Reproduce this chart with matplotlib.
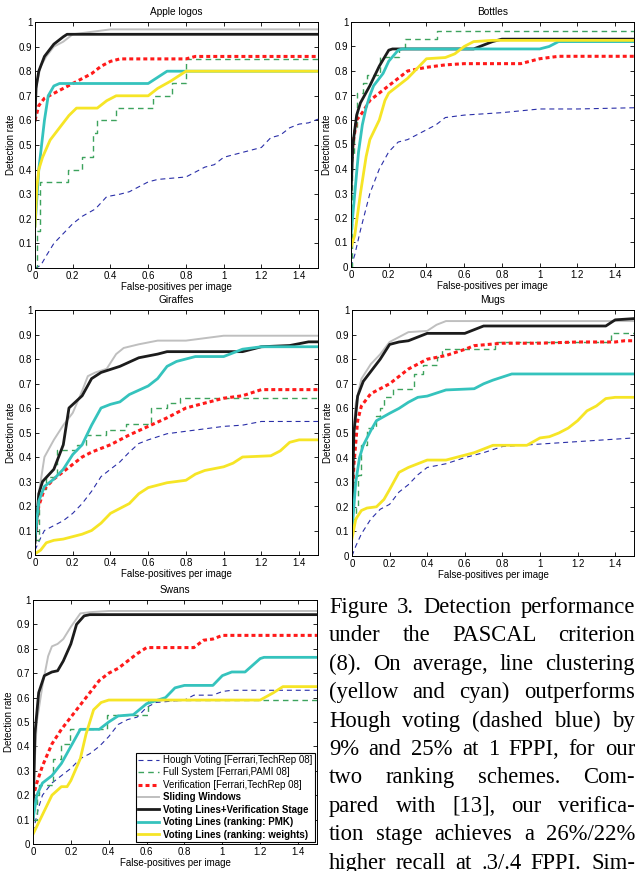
import matplotlib.pyplot as plt
import numpy as np

# figure size in pixels
W, H = 637, 871

# ---- data: (false positives per image, detection rate) ----
# Apple logos
apple_hough = [(0, 0), (0.03, 0.01), (0.06, 0.05), (0.1, 0.1), (0.15, 0.14), (0.2, 0.18), (0.25, 0.21),
               (0.32, 0.24), (0.38, 0.29), (0.45, 0.3), (0.5, 0.31), (0.55, 0.33), (0.6, 0.35), (0.65, 0.36),
               (0.8, 0.37), (0.9, 0.41), (0.95, 0.42), (1.0, 0.45), (1.1, 0.47), (1.2, 0.49), (1.25, 0.53),
               (1.3, 0.54), (1.35, 0.57), (1.4, 0.585), (1.45, 0.59), (1.5, 0.605)]
apple_full = [(0, 0), (0.01, 0.15), (0.027, 0.35), (0.177, 0.40), (0.248, 0.45), (0.31, 0.55), (0.327, 0.60),
              (0.43, 0.65), (0.625, 0.70), (0.726, 0.75), (0.80, 0.85), (1.5, 0.85)]
apple_verif = [(0, 0.6), (0.02, 0.66), (0.05, 0.69), (0.1, 0.71), (0.15, 0.73), (0.2, 0.75), (0.25, 0.77),
               (0.3, 0.79), (0.35, 0.82), (0.4, 0.84), (0.45, 0.85), (0.8, 0.85), (0.85, 0.86), (1.5, 0.86)]
apple_sliding = [(0, 0.6), (0.01, 0.75), (0.03, 0.82), (0.06, 0.86), (0.1, 0.9), (0.15, 0.92), (0.2, 0.95),
                 (0.3, 0.96), (0.4, 0.97), (1.5, 0.97)]
apple_vlver = [(0, 0.6), (0.005, 0.73), (0.02, 0.8), (0.05, 0.86), (0.1, 0.91), (0.15, 0.94), (0.17, 0.95),
               (1.5, 0.95)]
apple_pmk = [(0, 0.17), (0.02, 0.4), (0.05, 0.6), (0.07, 0.7), (0.1, 0.74), (0.13, 0.75), (0.6, 0.75),
             (0.7, 0.8), (1.5, 0.8)]
apple_weights = [(0, 0.17), (0.01, 0.33), (0.02, 0.4), (0.04, 0.45), (0.08, 0.52), (0.13, 0.57), (0.18, 0.62),
                 (0.22, 0.65), (0.33, 0.65), (0.38, 0.68), (0.43, 0.7), (0.6, 0.7), (0.65, 0.73), (0.72, 0.76),
                 (0.8, 0.8), (1.5, 0.8)]

# Bottles
bottles_hough = [(0, 0), (0.02, 0.05), (0.05, 0.15), (0.1, 0.3), (0.15, 0.4), (0.2, 0.47), (0.25, 0.51),
                 (0.3, 0.52), (0.35, 0.54), (0.4, 0.56), (0.45, 0.58), (0.5, 0.61), (0.6, 0.62), (0.8, 0.63),
                 (1.0, 0.645), (1.2, 0.645), (1.5, 0.65)]
bottles_full = [(0, 0), (0.003, 0.45), (0.015, 0.57), (0.03, 0.71), (0.065, 0.75), (0.085, 0.785),
                (0.155, 0.857), (0.255, 0.89), (0.285, 0.93), (0.455, 0.965), (1.5, 0.965)]
bottles_verif = [(0, 0.4), (0.01, 0.5), (0.03, 0.6), (0.06, 0.63), (0.1, 0.68), (0.15, 0.71), (0.2, 0.74),
                 (0.25, 0.77), (0.3, 0.8), (0.4, 0.815), (0.5, 0.825), (0.6, 0.83), (0.9, 0.83), (1.0, 0.85),
                 (1.1, 0.86), (1.5, 0.86)]
bottles_vlver = [(0, 0.3), (0.01, 0.5), (0.03, 0.62), (0.05, 0.67), (0.1, 0.74), (0.15, 0.82), (0.2, 0.885),
                 (0.22, 0.89), (0.65, 0.89), (0.75, 0.92), (0.8, 0.93), (1.5, 0.93)]
bottles_pmk = [(0, 0.13), (0.02, 0.3), (0.04, 0.47), (0.06, 0.58), (0.08, 0.65), (0.1, 0.7), (0.12, 0.74),
               (0.17, 0.79), (0.2, 0.84), (0.25, 0.885), (0.27, 0.89), (1.0, 0.89), (1.05, 0.9), (1.1, 0.92),
               (1.5, 0.92)]
bottles_weights = [(0, 0.08), (0.02, 0.13), (0.05, 0.3), (0.08, 0.45), (0.1, 0.52), (0.15, 0.6), (0.18, 0.68),
                   (0.2, 0.71), (0.25, 0.74), (0.3, 0.77), (0.35, 0.81), (0.4, 0.85), (0.5, 0.855), (0.55, 0.87),
                   (0.6, 0.9), (0.65, 0.92), (0.75, 0.925), (1.5, 0.925)]

# Giraffes
giraffes_hough = [(0, 0.02), (0.03, 0.07), (0.05, 0.1), (0.1, 0.12), (0.15, 0.14), (0.2, 0.17), (0.25, 0.21),
                  (0.3, 0.26), (0.35, 0.32), (0.4, 0.35), (0.45, 0.38), (0.5, 0.42), (0.55, 0.455), (0.6, 0.47),
                  (0.7, 0.495), (0.8, 0.505), (0.9, 0.515), (1.0, 0.525), (1.1, 0.53), (1.2, 0.545), (1.5, 0.545)]
giraffes_full = [(0, 0.06), (0.02, 0.27), (0.058, 0.32), (0.115, 0.43), (0.22, 0.45), (0.27, 0.49),
                 (0.377, 0.51), (0.48, 0.535), (0.616, 0.6), (0.70, 0.62), (0.766, 0.64), (1.5, 0.64)]
giraffes_verif = [(0, 0.07), (0.02, 0.2), (0.05, 0.27), (0.1, 0.31), (0.15, 0.34), (0.2, 0.37), (0.25, 0.4),
                  (0.3, 0.42), (0.4, 0.45), (0.5, 0.49), (0.6, 0.525), (0.7, 0.56), (0.8, 0.6), (0.9, 0.62),
                  (1.0, 0.64), (1.1, 0.65), (1.2, 0.675), (1.5, 0.675)]
giraffes_sliding = [(0, 0.05), (0.02, 0.25), (0.05, 0.4), (0.1, 0.47), (0.15, 0.53), (0.2, 0.58), (0.25, 0.67),
                    (0.28, 0.73), (0.32, 0.745), (0.38, 0.76), (0.43, 0.82), (0.47, 0.845), (0.55, 0.86),
                    (0.65, 0.875), (0.8, 0.875), (0.9, 0.885), (1.0, 0.895), (1.5, 0.895)]
giraffes_vlver = [(0, 0.05), (0.02, 0.25), (0.04, 0.3), (0.1, 0.35), (0.15, 0.45), (0.18, 0.6), (0.25, 0.65),
                  (0.3, 0.72), (0.35, 0.745), (0.45, 0.77), (0.55, 0.805), (0.65, 0.82), (0.7, 0.83), (1.1, 0.83),
                  (1.2, 0.85), (1.35, 0.855), (1.45, 0.87), (1.5, 0.87)]
giraffes_pmk = [(0, 0.07), (0.02, 0.22), (0.05, 0.28), (0.1, 0.31), (0.15, 0.35), (0.2, 0.41), (0.25, 0.45),
                (0.3, 0.53), (0.35, 0.6), (0.4, 0.615), (0.45, 0.625), (0.5, 0.655), (0.6, 0.69), (0.65, 0.72),
                (0.7, 0.77), (0.75, 0.79), (0.85, 0.81), (1.0, 0.81), (1.05, 0.825), (1.1, 0.84), (1.2, 0.85),
                (1.5, 0.85)]
giraffes_weights = [(0, 0.005), (0.03, 0.02), (0.06, 0.05), (0.1, 0.06), (0.15, 0.065), (0.2, 0.075),
                    (0.25, 0.085), (0.3, 0.1), (0.35, 0.13), (0.4, 0.17), (0.45, 0.19), (0.5, 0.21), (0.55, 0.25),
                    (0.6, 0.275), (0.65, 0.285), (0.7, 0.295), (0.8, 0.305), (0.85, 0.33), (0.9, 0.345),
                    (1.0, 0.36), (1.05, 0.375), (1.1, 0.4), (1.25, 0.405), (1.3, 0.425), (1.35, 0.46), (1.4, 0.47),
                    (1.5, 0.47)]

# Mugs
mugs_hough = [(0, 0), (0.02, 0.04), (0.05, 0.09), (0.1, 0.15), (0.15, 0.19), (0.2, 0.21), (0.25, 0.26),
              (0.3, 0.29), (0.35, 0.33), (0.4, 0.36), (0.5, 0.375), (0.6, 0.4), (0.7, 0.42), (0.8, 0.445),
              (0.9, 0.45), (1.0, 0.455), (1.2, 0.465), (1.4, 0.475), (1.5, 0.48)]
mugs_full = [(0, 0.15), (0.02, 0.2), (0.03, 0.33), (0.05, 0.45), (0.08, 0.52), (0.13, 0.57), (0.15, 0.6),
             (0.17, 0.645), (0.22, 0.68), (0.33, 0.74), (0.38, 0.775), (0.45, 0.81), (0.48, 0.84), (0.76, 0.87),
             (1.38, 0.905), (1.5, 0.905)]
mugs_verif = [(0, 0.2), (0.01, 0.37), (0.03, 0.55), (0.05, 0.61), (0.1, 0.66), (0.15, 0.68), (0.2, 0.7),
              (0.25, 0.73), (0.3, 0.76), (0.35, 0.78), (0.4, 0.8), (0.5, 0.815), (0.6, 0.84), (0.65, 0.855),
              (0.8, 0.865), (1.0, 0.865), (1.2, 0.87), (1.4, 0.87), (1.45, 0.875), (1.5, 0.875)]
mugs_sliding = [(0, 0.45), (0.02, 0.62), (0.05, 0.72), (0.1, 0.78), (0.15, 0.82), (0.2, 0.87), (0.25, 0.89),
                (0.3, 0.91), (0.4, 0.915), (0.45, 0.94), (0.5, 0.955), (1.5, 0.955)]
mugs_vlver = [(0, 0.15), (0.01, 0.5), (0.03, 0.65), (0.06, 0.71), (0.1, 0.75), (0.15, 0.8), (0.2, 0.86),
              (0.25, 0.87), (0.3, 0.875), (0.35, 0.89), (0.4, 0.905), (0.6, 0.905), (0.65, 0.92), (0.7, 0.935),
              (1.35, 0.935), (1.4, 0.96), (1.5, 0.965)]
mugs_pmk = [(0, 0.1), (0.02, 0.3), (0.04, 0.4), (0.06, 0.45), (0.1, 0.51), (0.13, 0.55), (0.2, 0.58),
            (0.25, 0.6), (0.3, 0.625), (0.35, 0.645), (0.4, 0.65), (0.5, 0.675), (0.65, 0.68), (0.7, 0.7),
            (0.75, 0.715), (0.85, 0.74), (1.5, 0.74)]
mugs_weights = [(0, 0.07), (0.02, 0.15), (0.05, 0.185), (0.08, 0.195), (0.13, 0.2), (0.17, 0.23), (0.2, 0.27),
                (0.25, 0.34), (0.3, 0.36), (0.35, 0.375), (0.4, 0.39), (0.5, 0.39), (0.6, 0.41), (0.65, 0.42),
                (0.75, 0.45), (0.93, 0.45), (1.0, 0.48), (1.05, 0.485), (1.1, 0.5), (1.15, 0.52), (1.2, 0.55),
                (1.25, 0.59), (1.3, 0.61), (1.35, 0.64), (1.4, 0.645), (1.5, 0.645)]

# Swans
swans_hough = [(0, 0.05), (0.03, 0.15), (0.05, 0.2), (0.1, 0.25), (0.15, 0.28), (0.2, 0.31), (0.25, 0.35),
               (0.3, 0.37), (0.35, 0.4), (0.4, 0.44), (0.45, 0.49), (0.5, 0.51), (0.55, 0.52), (0.6, 0.56),
               (0.65, 0.58), (0.8, 0.59), (0.85, 0.61), (0.95, 0.61), (1.0, 0.625), (1.05, 0.63), (1.5, 0.63)]
swans_full = [(0, 0.1), (0.02, 0.2), (0.03, 0.24), (0.105, 0.35), (0.15, 0.41), (0.195, 0.47), (0.39, 0.53),
              (0.61, 0.59), (1.5, 0.59)]
swans_verif = [(0, 0.19), (0.02, 0.25), (0.05, 0.32), (0.1, 0.41), (0.15, 0.47), (0.2, 0.52), (0.25, 0.57),
               (0.3, 0.62), (0.35, 0.67), (0.4, 0.7), (0.45, 0.72), (0.5, 0.75), (0.55, 0.78), (0.6, 0.805),
               (0.85, 0.805), (0.9, 0.835), (0.95, 0.84), (1.0, 0.855), (1.5, 0.855)]
swans_sliding = [(0, 0.2), (0.02, 0.5), (0.05, 0.65), (0.08, 0.77), (0.1, 0.81), (0.13, 0.82), (0.16, 0.84),
                 (0.2, 0.89), (0.25, 0.945), (0.3, 0.95), (0.4, 0.955), (1.5, 0.955)]
swans_vlver = [(0, 0.1), (0.01, 0.45), (0.03, 0.62), (0.06, 0.69), (0.1, 0.705), (0.13, 0.71), (0.16, 0.75),
               (0.2, 0.82), (0.23, 0.9), (0.27, 0.935), (0.3, 0.94), (1.5, 0.94)]
swans_pmk = [(0, 0.1), (0.02, 0.2), (0.05, 0.25), (0.1, 0.28), (0.15, 0.33), (0.2, 0.4), (0.25, 0.47),
             (0.35, 0.47), (0.4, 0.5), (0.45, 0.525), (0.53, 0.53), (0.6, 0.575), (0.7, 0.6), (0.75, 0.64),
             (0.8, 0.65), (0.95, 0.65), (1.0, 0.69), (1.05, 0.705), (1.12, 0.705), (1.2, 0.76), (1.22, 0.765),
             (1.5, 0.765)]
swans_weights = [(0, 0.04), (0.05, 0.12), (0.1, 0.2), (0.15, 0.235), (0.18, 0.235), (0.2, 0.26), (0.25, 0.35),
                 (0.28, 0.45), (0.32, 0.55), (0.36, 0.58), (0.4, 0.59), (1.2, 0.59), (1.27, 0.62), (1.32, 0.645),
                 (1.5, 0.645)]

legend_labels = ["Hough Voting [Ferrari,TechRep 08]", "Full System [Ferrari,PAMI 08]",
                 "Verification [Ferrari,TechRep 08]", "Sliding Windows",
                 "Voting Lines+Verification Stage", "Voting Lines (ranking: PMK)",
                 "Voting Lines (ranking: weights)"]

caption_lines = ["Figure 3. Detection performance",
                 "under the PASCAL criterion",
                 "(8). On average, line clustering",
                 "(yellow and cyan) outperforms",
                 "Hough voting (dashed blue) by",
                 "9% and 25% at 1 FPPI, for our",
                 "two ranking schemes. Com-",
                 "pared with [13], our verifica-",
                 "tion stage achieves a 26%/22%",
                 "higher recall at .3/.4 FPPI. Sim-"]

# line styles per method (same order as legend)
styles = [dict(color='#2a2fa8', lw=0.8, dashes=(4.5, 3.5)),
          dict(color='#3da35d', lw=1.0, dashes=(4, 3)),
          dict(color='#ff1a1a', lw=2.2, dashes=(1.3, 1.0)),
          dict(color='#bfbfbf', lw=1.4),
          dict(color='#1c1c1c', lw=2.0),
          dict(color='#35c3bd', lw=2.0),
          dict(color='#f6e526', lw=2.0)]

panels = [("Apple logos", (35, 22, 318, 268),
           [apple_hough, apple_full, apple_verif, apple_sliding, apple_vlver, apple_pmk, apple_weights]),
          ("Bottles", (351, 22, 634, 267),
           [bottles_hough, bottles_full, bottles_verif, None, bottles_vlver, bottles_pmk, bottles_weights]),
          ("Giraffes", (35, 310, 318, 555),
           [giraffes_hough, giraffes_full, giraffes_verif, giraffes_sliding, giraffes_vlver, giraffes_pmk,
            giraffes_weights]),
          ("Mugs", (352, 310, 634, 556),
           [mugs_hough, mugs_full, mugs_verif, mugs_sliding, mugs_vlver, mugs_pmk, mugs_weights]),
          ("Swans", (33, 600, 317, 844),
           [swans_hough, swans_full, swans_verif, swans_sliding, swans_vlver, swans_pmk, swans_weights])]

plt.rcParams['font.family'] = ['Liberation Sans', 'DejaVu Sans']
fig = plt.figure(figsize=(W / 100, H / 100), dpi=100)

for title, (l, t, r, b), series in panels:
    ax = fig.add_axes([l / W, 1 - b / H, (r - l) / W, (b - t) / H])
    handles = []
    for k, pts in enumerate(series):
        if pts is None:
            h, = ax.plot([], [], **styles[k])
        else:
            xy = np.array(pts)
            # the full-system curves are staircases
            ds = 'steps-post' if k == 1 else 'default'
            h, = ax.plot(xy[:, 0], xy[:, 1], drawstyle=ds, **styles[k])
        handles.append(h)
    ax.set_xlim(0, 1.5)
    ax.set_ylim(0, 1)
    ax.set_xticks(np.arange(0, 1.41, 0.2))
    ax.set_xticklabels(['%g' % v for v in np.round(np.arange(0, 1.41, 0.2), 1)])
    ax.set_yticks(np.arange(0, 1.01, 0.1))
    ax.set_yticklabels(['%g' % v for v in np.round(np.arange(0, 1.01, 0.1), 1)])
    ax.tick_params(direction='in', top=True, right=True, length=3, width=0.6, labelsize=7, pad=2)
    for s in ax.spines.values():
        s.set_linewidth(0.7)
    ax.set_title(title, fontsize=7.3, pad=5)
    ax.set_xlabel('False-positives per image', fontsize=7, labelpad=1)
    ax.set_ylabel('Detection rate', fontsize=7, labelpad=2)
    if title == "Swans":
        leg = ax.legend(handles, legend_labels, loc='lower right', fontsize=7, handlelength=2.2,
                        labelspacing=0.25, borderpad=0.25, handletextpad=0.4, borderaxespad=0.2,
                        fancybox=False, framealpha=1, edgecolor='black')
        leg.get_frame().set_linewidth(0.8)
        for txt in leg.get_texts()[3:]:
            txt.set_fontweight('bold')

# caption, justified between two margins (last line runs off the bottom, as in the page crop)
renderer = fig.canvas.get_renderer()
cap_left, cap_right = 329, 635
for i, line in enumerate(caption_lines):
    y = 613 + i * 28.4
    words = line.split()
    items = [fig.text(0, 0, w, fontsize=16.3, family='Liberation Serif', va='baseline') for w in words]
    widths = [it.get_window_extent(renderer).width for it in items]
    gap = (cap_right - cap_left - sum(widths)) / (len(words) - 1)
    x = cap_left
    for it, w in zip(items, widths):
        it.set_position((x / W, 1 - y / H))
        x += w + gap

fig.savefig('out.png', dpi=100)
